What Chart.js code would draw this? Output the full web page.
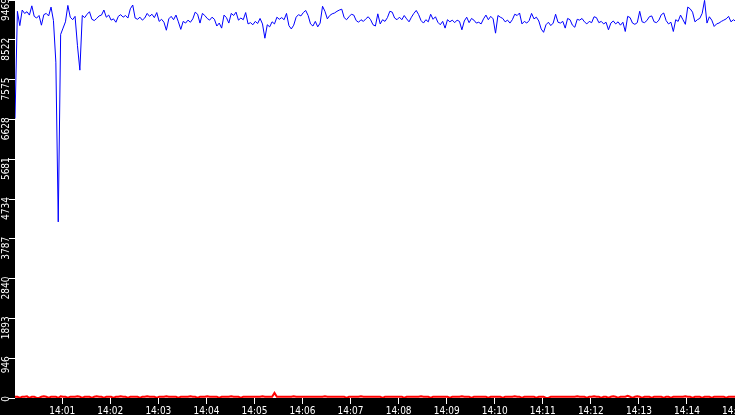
<!DOCTYPE html>
<html>
<head>
<meta charset="utf-8">
<title>Rate</title>
<script src="https://cdn.jsdelivr.net/npm/chart.js@4.4.1/dist/chart.umd.min.js"></script>
<style>
  html, body { margin: 0; padding: 0; background: #000; }
  #wrap { width: 735px; height: 415px; }
</style>
</head>
<body>
<div id="wrap"><canvas id="rateChart"></canvas></div>
<script>
// seconds after 14:00:00, one sample every 3 s
const START_SEC = 1;
const STEP_SEC = 3;

// blue series (one row per minute)
const blueValues = [
    6650, 9200, 8860, 9230, 9150, 9190, 9110, 9330, 9080, 9040, 9100, 8870, 9120, 9150, 9090, 9300, 8980, 7990, 4190, 8650,
    8800, 8950, 9340, 9060, 9000, 9080, 8380, 7800, 9100, 9050, 9130, 9190, 9010, 8980, 9030, 9090, 9110, 9230, 9060, 9110,
    8990, 9020, 8940, 9080, 9120, 9060, 9100, 9040, 9260, 9350, 9040, 9010, 9060, 8990, 9040, 9150, 9080, 9130, 9050, 9170,
    8960, 9010, 8940, 8750, 9020, 9080, 9000, 9110, 8950, 8770, 8960, 8920, 8990, 8940, 9020, 9180, 9130, 8920, 9150, 9100,
    9030, 8990, 9060, 9010, 8850, 8920, 8800, 9110, 9050, 8920, 9150, 9100, 9180, 8990, 9040, 9000, 9170, 8900, 8930, 8880,
    8960, 8910, 9030, 8900, 8560, 8880, 8830, 8950, 8900, 9060, 9010, 9050, 9000, 9150, 8860, 8780, 8870, 9060, 9120, 9090,
    9170, 9220, 9100, 8900, 8850, 8960, 8830, 8920, 9320, 9200, 9020, 9100, 9140, 9160, 9200, 9230, 9250, 9050, 9000, 9070,
    9130, 9110, 8980, 8940, 9000, 8960, 9020, 9070, 9000, 8880, 8850, 9140, 8900, 9000, 8960, 9050, 9200, 9180, 9040, 9000,
    9060, 9000, 9100, 9020, 8950, 9060, 9150, 9220, 9120, 8980, 8920, 9000, 8950, 9130, 9010, 9070, 8940, 8880, 8960, 8800,
    9000, 8950, 8990, 8930, 8990, 8960, 8760, 8970, 9060, 8930, 9030, 8990, 8920, 8940, 8900, 9020, 9110, 9000, 9080, 9020,
    8680, 9100, 9060, 9030, 8950, 8990, 8920, 9000, 9130, 9100, 9160, 8900, 8960, 8920, 8980, 9150, 9020, 9060, 8970, 8780,
    8700, 8880, 8940, 8860, 8920, 9130, 8940, 8920, 8960, 8800, 9030, 9000, 8870, 8820, 9010, 8990, 9030, 8950, 8900, 8960,
    8930, 9070, 9050, 8930, 8960, 8900, 8940, 8760, 8920, 8970, 8900, 8950, 8870, 8940, 8720, 9080, 9050, 8920, 8890, 8930,
    9200, 8950, 8930, 8980, 9070, 9090, 8950, 8930, 8990, 9120, 9160, 8980, 8900, 8940, 8720, 9000, 8960, 9110, 9000, 8890,
    9300, 9260, 9180, 8950, 9000, 9030, 9150, 9460, 8920, 9070, 8990, 8840, 8900, 8920, 8960, 8990, 9020, 9080, 8950, 9000,
    8960
];

// red series, sits on the floor
const redValues = [
    30, 30, 0, 30, 30, 40, 0, 30, 30, 0, 0, 30, 40, 30, 0, 30, 30, 30, 0, 40,
    30, 30, 0, 30, 30, 30, 40, 30, 0, 30, 30, 30, 0, 30, 40, 30, 30, 0, 30, 30,
    30, 0, 30, 30, 40, 30, 30, 0, 30, 30, 30, 30, 0, 30, 30, 40, 30, 30, 30, 0,
    30, 30, 30, 40, 30, 30, 30, 30, 0, 30, 30, 30, 30, 40, 30, 30, 0, 30, 30, 30,
    40, 30, 30, 30, 30, 0, 30, 30, 30, 30, 40, 30, 30, 30, 0, 30, 30, 30, 30, 30,
    30, 30, 30, 40, 30, 30, 30, 30, 120, 30, 30, 30, 30, 30, 30, 30, 40, 30, 30, 30,
    30, 30, 30, 30, 30, 30, 30, 30, 30, 40, 30, 30, 30, 30, 30, 30, 30, 30, 0, 30,
    30, 30, 30, 30, 40, 30, 30, 30, 30, 30, 30, 30, 30, 0, 30, 30, 30, 30, 30, 30,
    30, 30, 0, 30, 30, 30, 30, 30, 30, 40, 30, 30, 30, 0, 30, 30, 30, 30, 30, 30,
    30, 0, 30, 30, 30, 30, 40, 30, 30, 30, 0, 30, 30, 30, 30, 30, 30, 0, 30, 30,
    30, 30, 30, 0, 30, 30, 30, 30, 40, 30, 30, 0, 30, 30, 30, 30, 30, 0, 30, 30,
    30, 0, 0, 30, 30, 30, 30, 30, 30, 30, 30, 30, 30, 30, 40, 30, 30, 30, 0, 30,
    30, 40, 30, 30, 0, 30, 30, 0, 30, 40, 30, 0, 30, 30, 30, 50, 30, 0, 30, 40,
    30, 0, 30, 30, 30, 0, 30, 30, 30, 30, 0, 30, 30, 0, 30, 30, 30, 30, 30, 40,
    30, 30, 0, 30, 30, 30, 0, 30, 30, 30, 0, 30, 30, 30, 30, 30, 0, 30, 30, 30,
    30
];

// y axis runs 0..9469 in ten equal steps, labels truncated
const Y_MAX = 9469;
const Y_STEP = 946.9;
const X_MIN = 1;
const X_MAX = 900;
const X_STEP = 60;
const HOUR_LABEL = '14';

const FONT = { family: "'Liberation Sans Narrow', 'DejaVu Sans Condensed', 'Liberation Sans', sans-serif", size: 10 };

function toPoints(values) {
    return values.map((v, i) => ({ x: START_SEC + i * STEP_SEC, y: v }));
}

// black canvas, white plot area
const backdrop = {
    id: 'backdrop',
    beforeDraw(chart) {
        const { ctx, chartArea } = chart;
        ctx.save();
        ctx.fillStyle = '#000';
        ctx.fillRect(0, 0, chart.width, chart.height);
        ctx.fillStyle = '#fff';
        ctx.fillRect(chartArea.left, chartArea.top, chartArea.right - chartArea.left, chartArea.bottom - chartArea.top);
        ctx.restore();
    }
};

const ctx = document.getElementById('rateChart').getContext('2d');
new Chart(ctx, {
    type: 'line',
    data: {
        datasets: [
            {
                data: toPoints(redValues),
                borderColor: '#ff0000',
                borderWidth: 2,
                pointRadius: 0,
                tension: 0
            },
            {
                data: toPoints(blueValues),
                borderColor: '#0000ff',
                borderWidth: 1,
                pointRadius: 0,
                tension: 0
            }
        ]
    },
    options: {
        responsive: true,
        maintainAspectRatio: false,
        animation: false,
        events: [],
        layout: { padding: 0 },
        plugins: {
            legend: { display: false },
            tooltip: { enabled: false }
        },
        scales: {
            x: {
                type: 'linear',
                min: X_MIN,
                max: X_MAX,
                border: { display: false },
                grid: { drawOnChartArea: false, color: '#fff', tickLength: 6, tickWidth: 1 },
                ticks: {
                    autoSkip: false,
                    maxRotation: 0,
                    padding: 1,
                    color: '#fff',
                    font: FONT,
                    callback: v => HOUR_LABEL + ':' + String(Math.floor(v / 60)).padStart(2, '0')
                },
                // ticks on whole minutes only
                afterBuildTicks(scale) {
                    const ticks = [];
                    for (let s = X_STEP; s <= X_MAX; s += X_STEP) ticks.push({ value: s });
                    scale.ticks = ticks;
                },
                afterFit(scale) {
                    scale.height = 17;
                    scale.paddingLeft = 0;
                    scale.paddingRight = 0;
                }
            },
            y: {
                min: 0,
                max: Y_MAX,
                border: { display: false },
                grid: { drawOnChartArea: false, color: '#fff', tickLength: 6, tickWidth: 1 },
                ticks: {
                    stepSize: Y_STEP,
                    minRotation: 90,
                    maxRotation: 90,
                    labelOffset: -2,
                    padding: 3,
                    color: '#fff',
                    font: FONT,
                    callback: v => String(Math.floor(v))
                },
                afterFit(scale) {
                    scale.width = 15;
                    scale.paddingTop = 0;
                    scale.paddingBottom = 0;
                }
            }
        }
    },
    plugins: [backdrop]
});
</script>
</body>
</html>
